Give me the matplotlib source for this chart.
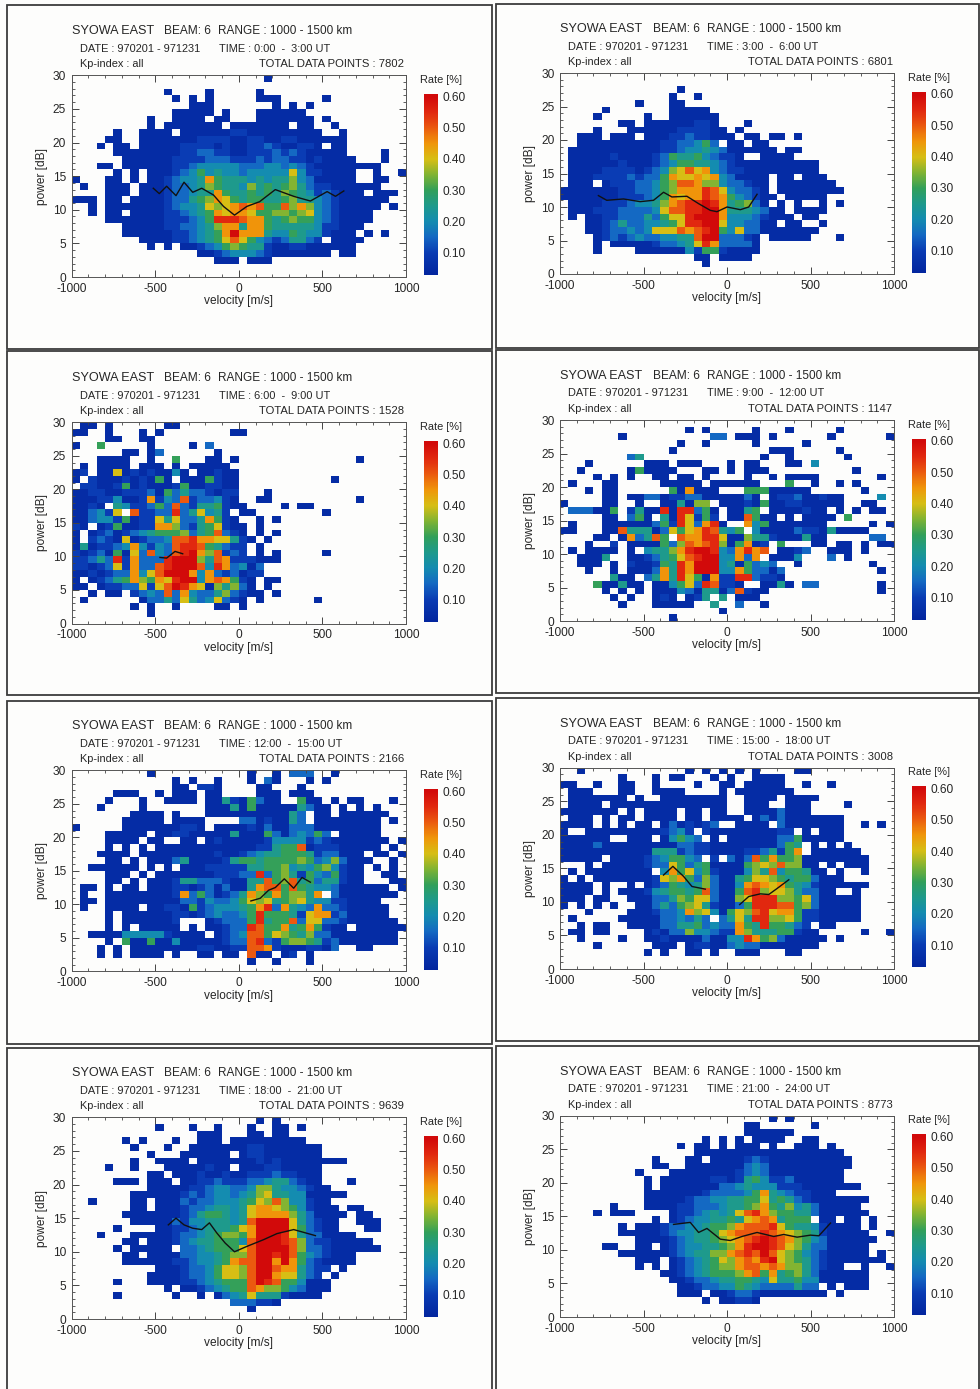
import numpy as np
import matplotlib
matplotlib.use("Agg")
import matplotlib.pyplot as plt
from matplotlib.colors import LinearSegmentedColormap
from matplotlib.patches import Rectangle
from matplotlib.ticker import MultipleLocator

plt.rcParams['font.family'] = ['Liberation Sans', 'DejaVu Sans']
plt.rcParams['axes.unicode_minus'] = False

# Cell codes per row, top row (29-30 dB) first; each code = rate / 0.05 % in hex, '.' = no data
P1_ROWS = [
".......... .......... ...1...... ..........",
".......... .......... .......... ..........",
".......... .1....1... ..1....... ..........",
".......... ..1.1.1... ..111..... 1.........",
".......... ....111... ....1.1.1. ..........",
".......... ..11111.1. ..111111.. ..........",
".........1 ..1111.11. ..1111111. 1.........",
".........1 .1111111.1 111111.11. .1........",
".....1..11 11.1111112 2111111111 ..1.......",
"....11..11 1111122221 1221122111 111.......",
"...1.11.11 1112222121 1223211221 .11.......",
".....11111 1112233221 1222323211 111....1..",
"......1111 1122223332 2232332212 1111...1..",
"...11.1111 1122344444 3334434321 1111111...",
".....1.1.1 1123464544 3444448422 1111..1..1",
"1...11.1.1 1234459655 5454557431 1111..11..",
".1..111.11 1233457655 4756567532 2111111...",
"....111.11 1233455965 5656576542 32111.111.",
"111.11.111 1233567986 5665567554 32111111..",
"..1.111111 1234458789 a9a66a7974 3211111.1.",
"..1.11.111 1223456989 9866776784 321111....",
"....111111 1222346bbb a996567664 321111....",
"......1111 1223345799 5996555554 22111.....",
"......1111 112234569c 9995446544 2111.1.1..",
"........11 112234568a 8643235532 .1111.....",
".........1 .1.1123467 6552112211 1111......",
".......... .....11234 4432111111 1.11......",
".......... .......111 .111...... ..........",
".......... .......... .......... ..........",
".......... .......... .......... ..........",
]
P2_ROWS = [
".......... .......... .......... ..........",
".......... .......... .......... ..........",
".......... ....1..... .......... ..........",
".......... ...1..1... .......... ..........",
".........1 ...11..... .......... ..........",
".....1.... ...11111.. .......... ..........",
"....1..... 1..111111. .......... ..........",
".......11. 111111221. ..1....... ..........",
"....1...11 1111222211 .1........ ..........",
"..111.111. 1112232211 1.11.11.1. ..........",
"..11111111 112233463. 11.11..... ..........",
".111111111 1122344543 111111.11. ..........",
".111112111 1236556432 21..1111.. ..........",
".111111211 1234665543 2111111111 1.........",
".111122221 23478a8943 2211111111 1.........",
".111222232 3369889894 31111.11.1 11........",
".111.12223 3467aa9774 33211.1111 111.......",
"1111111223 3467999ba8 43321.1111 1111......",
"1111111222 3469899ba9 643211.111 11........",
".111122234 4579abbcb9 56731.1.1. .1.1......",
".111222333 348aabbcc9 5554311.11 11........",
".1.1122333 53688bccc9 44432111.1 1.........",
"...1123533 44568bbcc8 443311.11. .1........",
"...1123343 4888a9abc6 4833111111 1.........",
"....123234 334455acc3 3321.11111 ...1......",
"....1.1111 1233458b93 3331...... ..........",
"....1....1 1111142662 1111...... ..........",
".......... ......11.1 111....... ..........",
".......... .......1.. .......... ..........",
".......... .......... .......... ..........",
]
P3_ROWS = [
".11.1..... .11....... .......... ..........",
"11..1...1. 1........1 1......... ..........",
"....11..11 .......... .......... ..........",
"1..6.....1 ....1.3... .......... ..........",
"......11.1 3......1.. .......... ..........",
"...1111..1 ..6...11.1 .......... ....1.....",
".1.1111.11 1.1.11111. .......... ..........",
"12.1181212 1141.11211 .......... ..........",
"1.21112121 61.1116211 .......... .1........",
".221126121 1126112211 .......... ..........",
"1122112223 1635332122 ...1...... ..........",
"1112241129 243a233421 ..11...... ....1.....",
"1121.54223 63a3255621 1....1.11. ..........",
"113428.a22 33b358452. 11........ 1.........",
"1134426122 8583359621 ..1.1..... ..........",
"21.1261122 9973256821 1.1....... ..........",
"1.12312345 6667356a32 1.1.1..... ..........",
"1.23218123 34aab99885 21.1...... ..........",
"1512234942 43abba6532 2.1....... ..........",
"212316183a 43abc97a23 2.1.1..... 1.........",
"22353b2933 3bccc75a92 22111..... ..........",
"2212382933 abccca4b93 413....... ..........",
"1121233948 accc949323 122....... ..........",
"1.12356976 98bcc49a96 21.11..... ..........",
"11.1223382 8acb981757 31.1...... ..........",
"..1.11.234 3a39433573 211.1..... ..........",
".1......13 3538534832 1.1......1 ..........",
".......1.1 ..1....11. 1......... ..........",
".........1 .......... .......... ..........",
".......... .......... .......... ..........",
]
P4_ROWS = [
".......... .......... .......... ..........",
".......... .....1.1.. ...1...1.. ...1......",
".......1.. ........33 .111.1.... ..1......1",
".......... ....1..1.. ...1.....1 ..........",
".......... ...1...... .....111.. ...1......",
"........35 .......... ....1..1.. ....1.....",
"...1...... 111.111... 1.11...11. 4.........",
"..1.....16 1111...11. 1.111..... .....1....",
"....1.1.1. .11.11.1.. ..1..1.111 1.......1.",
".1...11... ..11111.11 1111...6.. 1..1.1....",
"...1.11... ...619111. ..66611111 ......1...",
".....11.11 3312233111 1131.12231 1211....4.",
"1....11..1 ..115177.1 1121611221 1111..11..",
".333116.25 11b1bb361. 1156.11112 11.1.1.11.",
".....11.36 1.51b8262. 11a611.1.1 111.6.....",
".1...11111 1362b839b1 ..94611111 11.....1.1",
"11...11a55 5138689ba5 46.4111132 2151111...",
"....11.193 5a6.a99bb8 1175521115 11.....33.",
"...1..2.11 11637a9ab7 16912.6... 11.11.1.11",
".1.1111.1. 45579bccb4 39b9a.1123 ..111.1...",
"..1115..11 23568abcc4 4939.1114. ..3.1.....",
"..111.1.21 1265b9ccc4 516343..1. .......1..",
"...1..1.11 1395b9ccc4 4963313... ........1.",
"......511. 3595b86192 2bb3221... ..........",
"....611511 .114683ba2 21..1151.3 3.......1.",
".....1.1.1 .111431551 3a211..... ........1.",
"......1.1. .121.125.5 .111...... ..........",
".......1.. .11111..5. .3..1..... ..........",
".......... .........1 .......... ..........",
".......... ...1...... .......... ..........",
]
P5_ROWS = [
".........1 .......... .1..1.333. .1........",
".......... ..1.1..1.. .1.31...1. 1.........",
".......... ..11.221.. ..11...1.. ..........",
".....111.. 1.111.11.. ..111.111. ..........",
"....1...1. .1111.1152 16311..611 .1.11...1.",
"...1....1. ......1115 1611111531 1.1.1.1...",
".......111 1.1...1111 11111153.1 1.111111..",
"......1111 1.1111.... 33121153.1 1111111.1.",
"1.....1111 111221.111 1213113331 1111111...",
"....11111. 1122111115 1116313436 3.11111...",
"....1111.1 1..11.1211 1112444423 21111111.1",
"....1.1.1. 1111111111 1122566a12 2211111.1.",
"...1111.11 1111111211 2345566652 33111.11.1",
"....11.1.1 1135111125 6656666763 473111..1.",
"..111111.1 .1.1112222 2556674546 74211.1.1.",
"....111.1. 1111111222 33b3675264 36211..11.",
"....11.1.1 1125533321 155a67a563 55211...11",
".11.1.11.1 1122123131 159aa6a654 43111111.1",
".1..111111 1129363123 5976967759 .31111111.",
".11.111111 1113324334 6878567854 4221111...",
".1..1111.1 1221623444 569b395439 33211111..",
"....1.1111 1122123433 46b6665289 92311111..",
"....1.1111 112...1233 36b566a388 332111111.",
"....1.1.11 111.1.1123 3ba6695696 211.111111",
"..11114444 421111.123 4aa6876573 311111111.",
"....1.6116 1141111123 3ab3267765 231111111.",
"...1.1.111 1111122112 2aa9211122 13..11....",
"...1.1.111 1.1..11.11 .a11.12.1. ..........",
".......... .......... .1..1...1. ..........",
".......... .......... .......... ..........",
]
P6_ROWS = [
"..1....... .....1.1.1 .1.1....11 ..........",
".......1.. .1.11...1. 1..1111... ..........",
"11..1..11. .1....1..1 1.11111..1 ..1.......",
".111...11. .1111....1 .1111111.. ..........",
".1111111.1 ..11111111 ..1111.111 1.........",
".1111.1111 1111111111 ..111..111 ....1.....",
"1111111.1. 1111.11.11 ..11113111 ..........",
".111.1.11. 1111.11.11 11.1313111 1111......",
"1111.1.1.1 1.1312123. .1111.3111 1111..1.1.",
"1..1111111 112342.211 11111122.1 .111......",
"111111..11 1.14643.1. 1111113361 1111......",
"1111311111 1111332211 111111365. 1.1.1.....",
"1111111111 1555232211 112235269. 111111....",
"11111.1111 2346643.2. 313a696671 1111111...",
"...1.11111 2338635611 116787a771 1.1.111...",
".1.1111111 1.49684621 11475a4665 11.1..1...",
"1.1.111111 1287963731 1568876566 3111......",
"1111.1..1. 1236545731 149a989654 2111111...",
"1111.1.111 2456656a31 16ab788753 311..1....",
"111.11..11 1335768831 178bbb7768 311111....",
"1.1.1.1..1 1353678521 136bbbaa67 311111....",
"...1....11 1233497841 687ab89962 211111....",
".1.....111 11334353.3 585bb77862 211111....",
"..1.11..11 1133556343 3965b66532 .11.......",
".11.11.... 1213374432 2975556621 1.....1..1",
"..1....1.. 1121111311 44b9673111 11.1......",
"....1..... .111.12211 3433111111 1.........",
".......... 1.1..11.1. .111...11. ..........",
".......... .......... .......... ..........",
".......... .......... .......... ..........",
]
P7_ROWS = [
".......... .......... ..1.1..... ..........",
".......... 1...1..1.. .1..11.1.. ..........",
".......... .....111.. .11.11.... ..........",
"......1.1. ..1..111.1 11111111.. ..........",
".......1.. .1..111111 1221111111 ..........",
".........1 ...111111. 1221111111 ..........",
".......1.. 1111.11111 1121211111 111.......",
"....1..1.. .11111211. 1112211111 ..........",
".........1 1.11121121 1222322111 ..........",
".....111.1 11.1122322 2334553211 ...1......",
".........1 1111223443 3477544321 1.........",
".......111 1112323443 4578554411 111.......",
"..1....11. 1113233444 5687a74421 1.........",
".......11. 1112334554 5899876421 11.11.....",
"......1111 1112356654 5899997531 111.11....",
".......111 1132445554 5acccc8532 11..111...",
".....1.... 1122345556 89cccc8632 11...11...",
"...1...111 1123345677 69cccb8533 1111......",
"......11.1 1123455666 4acccba732 211111....",
".....1.111 11.3345666 8acccca733 2111111...",
"......11.1 1113344567 7accbca643 2111......",
"......1111 1122344569 aacc9c9632 1111......",
".......... 1112334688 7acca99532 2.1.......",
".........1 1112334688 7acc988532 .1........",
".....1...1 1112234566 6acba66411 1.........",
".......... .1.1123456 6a97764311 1.........",
".....1.... ..1..1.134 5855521111 ..........",
".......... .........3 33221..... ..........",
".......... .......... .1........ ..........",
".......... .......... .......... ..........",
]
P8_ROWS = [
".......... .......... .....1.1.. ..........",
".......... .......... ..11...... 1.........",
".......... .......... ..111111.. ..........",
".......... .......1.1 .1.1111..1 1.........",
".......... ....1.11.1 .111.1..11 1.1.......",
".......... ......1111 1111111111 1111......",
".......... .1...11.11 1123211111 11111.....",
".......... .11..11111 1134311111 11111.....",
".........1 ...1111111 1234311111 1111......",
".......... 1.11111122 1256422311 1111......",
".......... 1.11111113 3454442221 111111....",
".......... 1111111233 3346954322 111.......",
".......... 1111123344 5566856532 1111111...",
"......1... 1111223334 5567965745 311111....",
"....1.111. ...1223454 58ab976655 3111111...",
".......... .1.1234455 6589a95666 .11.11.1..",
".......1.1 1123344566 79aaab8655 421111.1..",
".......111 1123445568 9aaaba9876 5211111..1",
".........1 1112345567 89abcba976 43111111..",
".....11..1 1.12344556 79bccba875 3311111...",
".......111 1112345577 9abaca8764 3211111.1.",
".........1 11.1234568 79a9bc8765 321111111.",
".........1 .1.1234567 79aa9a9775 3211..1..1",
".......... ..11234566 679a695675 3111111...",
".......... ...1123345 5665485564 4111111...",
".......... ....112334 4654333353 3.1.111...",
".......... ....111.11 2332111111 11.1......",
".......... .......1.1 1221...... ..........",
".......... .......... .......... ..........",
".......... .......... .......... ..........",
]

# Black mean-power curves: (velocity, power) segments per panel
P1_V = [-512,-476,-432,-376,-328,-276,-222,-152,-92,-26,48,124,218,328,428,528,578,628]
P1_P = [13.2,12.4,13.5,12.1,14.1,12.6,13.2,12.2,10.5,9.2,10.5,11.2,13.0,12.0,11.3,12.7,12.0,12.8]
P2_V = [-770,-720,-620,-520,-440,-380,-330,-240,-170,-100,-60,0,80,130,180]
P2_P = [11.7,11.0,11.2,10.8,11.0,12.2,11.5,11.6,10.5,9.5,9.3,10.0,9.6,10.0,11.9]
P3_V = [-472,-432,-382,-336]
P3_P = [9.85,9.75,10.75,10.4]
P5_V = [72,128,178,218,272,328,378,428]
P5_P = [10.5,10.9,12.1,12.5,13.8,12.4,14.0,13.3]
P6A_V = [-380,-324,-260,-210,-130]
P6A_P = [14.0,15.3,13.8,12.3,11.9]
P6B_V = [76,130,200,250,300,370]
P6B_P = [9.6,10.8,11.2,11.1,12.0,13.3]
P7_V = [-422,-376,-328,-276,-222,-176,-132,-82,-26,48,148,228,328,458]
P7_P = [14.0,15.0,14.0,13.5,13.3,14.3,12.8,11.3,10.0,10.8,11.8,12.7,13.3,12.4]
P8_V = [-320,-220,-170,-120,-40,20,90,180,280,340,420,500,550,620]
P8_P = [13.8,14.1,12.6,13.2,11.6,11.4,12.0,12.6,12.0,12.3,11.9,12.2,12.1,14.0]

TIMES = ["0:00  -  3:00 UT", "3:00  -  6:00 UT", "6:00  -  9:00 UT", "9:00  -  12:00 UT",
         "12:00  -  15:00 UT", "15:00  -  18:00 UT", "18:00  -  21:00 UT", "21:00  -  24:00 UT"]
TOTALS = [7802, 6801, 1528, 1147, 2166, 3008, 9639, 8773]
CBAR_LABELS = [0.10, 0.20, 0.30, 0.40, 0.50, 0.60]

ALL_ROWS = [P1_ROWS, P2_ROWS, P3_ROWS, P4_ROWS, P5_ROWS, P6_ROWS, P7_ROWS, P8_ROWS]
ALL_LINES = [[(P1_V, P1_P)], [(P2_V, P2_P)], [(P3_V, P3_P)], [],
             [(P5_V, P5_P)], [(P6A_V, P6A_P), (P6B_V, P6B_P)], [(P7_V, P7_P)], [(P8_V, P8_P)]]

# Layout in reference pixels
W, H = 980, 1389
AX_BOX = [(71.7, 75.3, 406, 277), (560, 73, 894, 274),
          (71.7, 422.3, 406, 623.5), (560, 420, 894, 621),
          (71.7, 770.3, 406, 971.3), (560, 767.7, 894, 969),
          (71.7, 1117.3, 406, 1319), (560, 1115.7, 894, 1317)]
FRAMES = [(7, 5, 492, 349), (496, 4, 979, 348),
          (7, 351, 492, 695), (496, 350, 979, 693),
          (7, 701, 492, 1044), (496, 698, 979, 1041),
          (7, 1048, 492, 1395), (496, 1046, 979, 1395)]

cmap = LinearSegmentedColormap.from_list("rate", [
    (0.00, "#001c96"), (0.10/0.6, "#0a3cb4"), (0.15/0.6, "#1469c3"), (0.20/0.6, "#148cb0"),
    (0.25/0.6, "#1e9a8c"), (0.30/0.6, "#32a05a"), (0.35/0.6, "#82b432"), (0.40/0.6, "#d7be14"),
    (0.45/0.6, "#f0960a"), (0.50/0.6, "#eb5a0f"), (0.55/0.6, "#e1280f"), (1.00, "#d20a0a")])
TXT = "#262626"
FS = 8.6

fig = plt.figure(figsize=(W/100, H/100), dpi=100, facecolor="#fdfdfc")


def px_axes(x0, y0, x1, y1):
    return fig.add_axes([x0/W, 1-y1/H, (x1-x0)/W, (y1-y0)/H])


def ptext(x, y, s, **kw):
    kw.setdefault('fontsize', FS)
    kw.setdefault('color', TXT)
    kw.setdefault('va', 'center')
    fig.text(x/W, 1-y/H, s, **kw)


def decode(rows):
    out = []
    for r in rows[::-1]:
        s = r.replace(" ", "").ljust(40, ".")[:40]
        out.append([np.nan if c == "." else int(c, 16)*0.05 for c in s])
    return np.ma.masked_invalid(np.array(out))


xe = np.arange(-1000, 1001, 50)
ye = np.arange(0, 31, 1)

for i in range(8):
    L, T, R, B = AX_BOX[i]
    fx0, fy0, fx1, fy1 = FRAMES[i]
    fig.add_artist(Rectangle((fx0/W, 1-fy1/H), (fx1-fx0)/W, (fy1-fy0)/H, transform=fig.transFigure,
                             fill=False, edgecolor="#3c3c3c", linewidth=1.3, zorder=-1))
    ax = px_axes(L, T, R, B)
    ax.patch.set_alpha(0)
    ax.pcolormesh(xe, ye, decode(ALL_ROWS[i]), cmap=cmap, vmin=0.0, vmax=0.6, linewidth=0)
    for v, p in ALL_LINES[i]:
        ax.plot(v, p, color="#111111", lw=1.0)
    ax.set_xlim(-1000, 1000)
    ax.set_ylim(0, 30)
    ax.xaxis.set_major_locator(MultipleLocator(500))
    ax.xaxis.set_minor_locator(MultipleLocator(100))
    ax.yaxis.set_major_locator(MultipleLocator(5))
    ax.yaxis.set_minor_locator(MultipleLocator(1))
    ax.tick_params(which='major', direction='in', length=5, width=0.7, top=True, right=True,
                   color="#444444", labelsize=FS, labelcolor=TXT, pad=4)
    ax.tick_params(which='minor', direction='in', length=2.2, width=0.6, top=True, right=True, color="#444444")
    for s in ax.spines.values():
        s.set_linewidth(0.7)
        s.set_color("#555555")
    ax.set_xlabel("velocity [m/s]", fontsize=FS, color=TXT, labelpad=0.5)
    ax.set_ylabel("power [dB]", fontsize=FS, color=TXT, labelpad=3.5)

    ptext(L, T-44, "SYOWA EAST", fontsize=9.1)
    ptext(L+92.7, T-44, "BEAM: 6", fontsize=8.6)
    ptext(L+146.7, T-44, "RANGE : 1000 - 1500 km", fontsize=8.5)
    ptext(L+8.3, T-26.5, "DATE : 970201 - 971231", fontsize=7.9)
    ptext(L+147.3, T-26.5, "TIME : " + TIMES[i], fontsize=7.9)
    ptext(L+8.3, T-11, "Kp-index : all", fontsize=7.9)
    ptext(L+187.7, T-11, f"TOTAL DATA POINTS : {TOTALS[i]}", fontsize=8.1)

    cax = px_axes(L+352.3, T+18.7, L+365.6, T+199.7)
    grad = np.linspace(0.029, 0.607, 256).reshape(-1, 1)
    cax.imshow(grad, aspect='auto', origin='lower', cmap=cmap, vmin=0.0, vmax=0.6,
               extent=(0, 1, 0.029, 0.607))
    cax.set_xticks([])
    cax.yaxis.tick_right()
    cax.set_yticks(CBAR_LABELS)
    cax.set_yticklabels([f"{c:.2f}" for c in CBAR_LABELS])
    cax.tick_params(axis='y', length=0, pad=3.5, labelsize=FS, labelcolor=TXT)
    for s in cax.spines.values():
        s.set_visible(False)
    ptext(L+369, T+4.7, "Rate [%]", fontsize=7.9, ha='center')

fig.savefig("out.png", dpi=100, facecolor=fig.get_facecolor())
